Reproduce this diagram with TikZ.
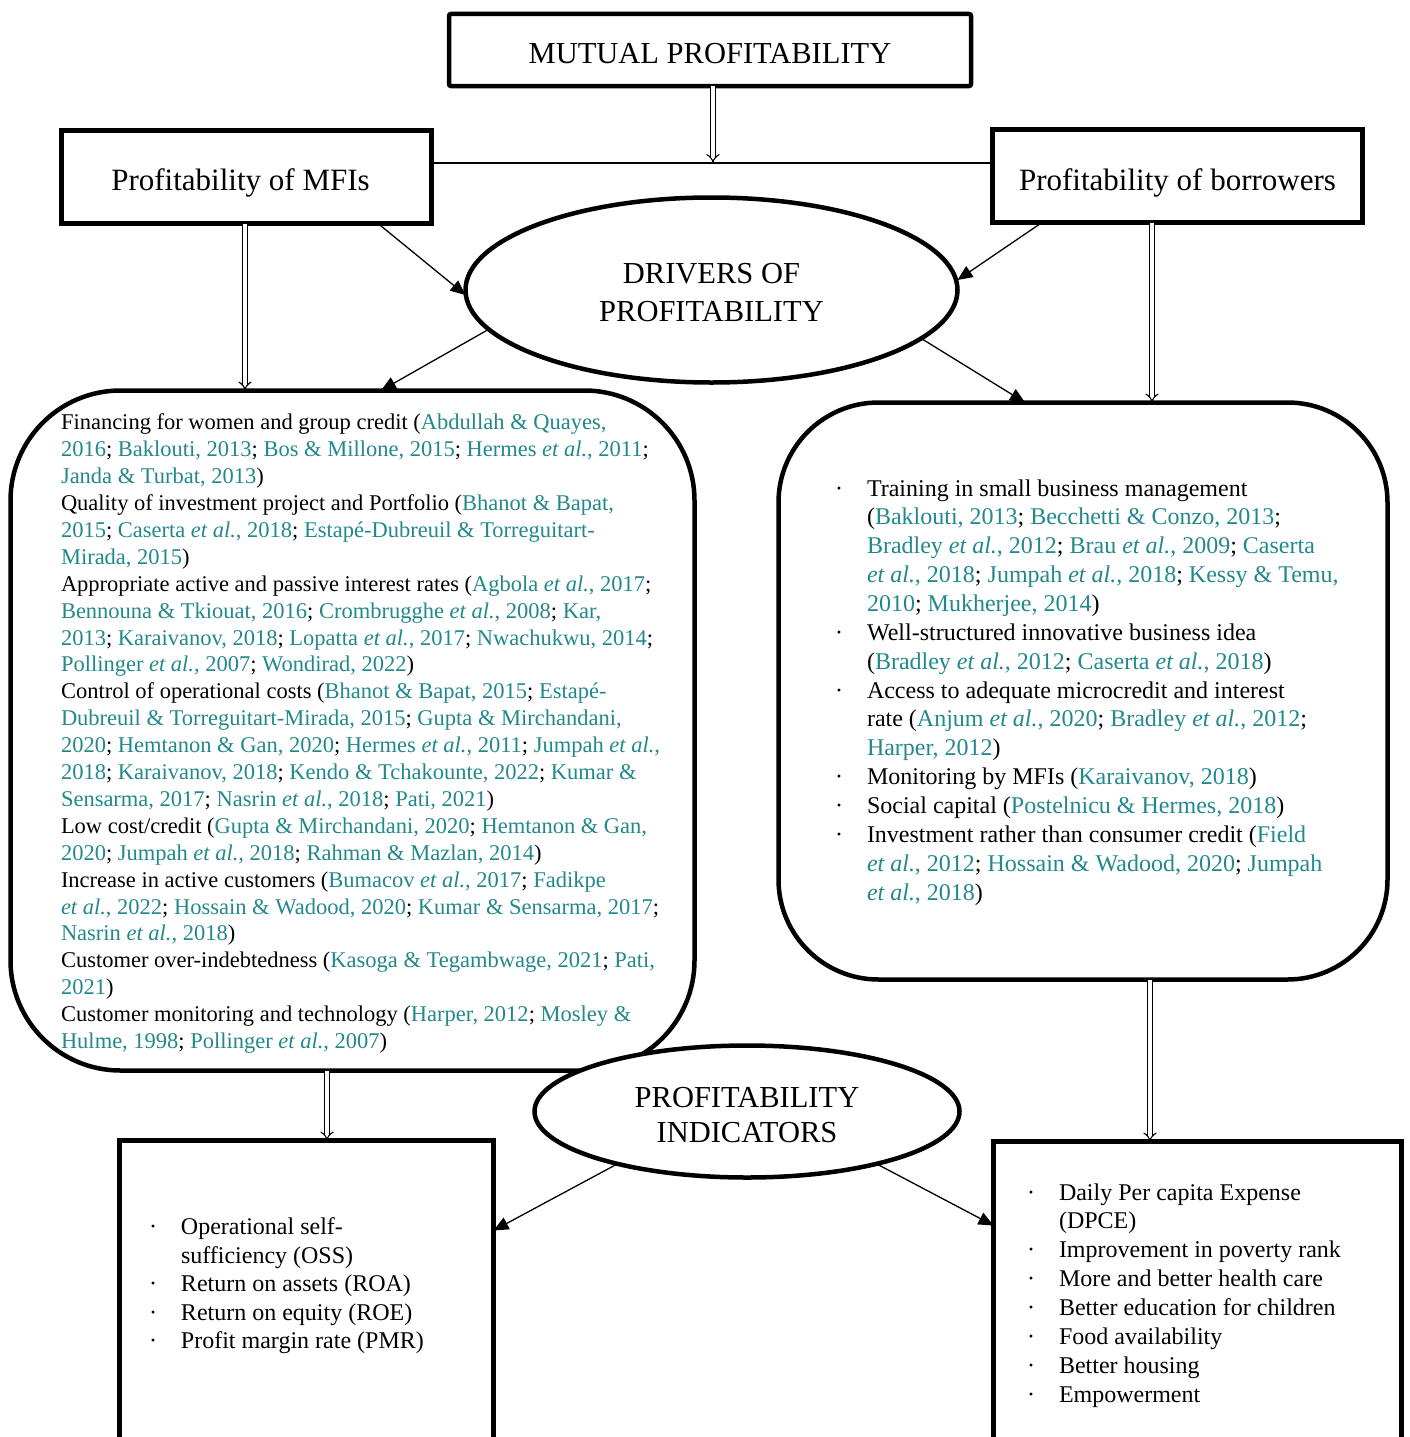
\documentclass[tikz,border=0pt]{standalone}
\usepackage{fontspec}
\setmainfont{Liberation Serif}
\usetikzlibrary{shapes.geometric,arrows.meta,calc}
\definecolor{citec}{RGB}{34,136,140}
\newcommand\ct[1]{\textcolor{citec}{#1}}
\newcommand\ea{\textit{et al.}}
\newcommand\mybul{\makebox[32pt][l]{\textperiodcentered}}
\newcommand\mycont{\makebox[32pt]{}}
\begin{document}
\begin{tikzpicture}[x=1pt,y=-1pt,
  thickbox/.style={draw, line width=4.5pt, inner sep=0pt, outer sep=0pt},
  head/.style={font=\fontsize{31}{38}\selectfont, align=center, inner sep=0pt},
  body/.style={inner sep=0pt, outer sep=0pt, align=left, anchor=north west},
  dbl/.style={double, double distance=3.5pt, line width=1.1pt, -{Implies}},
  arr/.style={line width=1.3pt, -{Triangle[length=15pt,width=13pt]}},
  thin/.style={line width=1.3pt}]
\useasboundingbox (0,0) rectangle (1410,1437);
\clip (0,0) rectangle (1410,1437);
% top boxes
\node[thickbox, rounded corners=2pt, minimum width=522pt, minimum height=72pt] (mutual) at (710,50) {};
\node[head, font=\fontsize{30.5}{36}\selectfont] (mutualt) at ([yshift=-4pt]mutual.center) {MUTUAL PROFITABILITY};
\node[thickbox, minimum width=370pt, minimum height=93pt] (mfi) at (246.5,177) {};
\node[head] (mfit) at ([xshift=-6pt,yshift=-6pt]mfi.center) {Profitability of MFIs};
\node[thickbox, minimum width=370pt, minimum height=93pt] (bor) at (1177.5,176) {};
\node[head] (bort) at ([yshift=-7pt]bor.center) {Profitability of borrowers};
% driver ellipse
\node[thickbox, ellipse, fill=white, minimum width=492pt, minimum height=185pt] (drv) at (711.5,290) {};
\node[head, font=\fontsize{30.5}{38}\selectfont] (drvt) at ([yshift=-3pt]drv.center) {DRIVERS OF\\PROFITABILITY};
% rounded boxes
\node[thickbox, rounded corners=110pt, minimum width=684pt, minimum height=680pt] (lbox) at (352.5,730.5) {};
\node[thickbox, rounded corners=100pt, minimum width=609pt, minimum height=577pt] (rbox) at (1083,691) {};
% bottom boxes (cut by the page edge)
\node[thickbox, minimum width=374pt, minimum height=340pt] (bl) at (306.5,1310.5) {};
\node[thickbox, minimum width=408pt, minimum height=340pt] (br) at (1197.5,1311.5) {};
% indicators ellipse
\node[thickbox, ellipse, fill=white, minimum width=425pt, minimum height=132pt] (ind) at (747,1111.5) {};
\node[head, font=\fontsize{30.5}{35}\selectfont] (indt) at ([yshift=-4pt]ind.center) {PROFITABILITY\\INDICATORS};
% connectors
\coordinate (mj) at (713,163);
\draw[thin] ([yshift=14pt]mfi.east) -- ([yshift=14pt]mfi.east -| bor.west);
\draw[dbl] ([xshift=3pt]mutual.south) -- (mj);
\draw[dbl] ([xshift=-1.5pt]mfi.south) -- ([xshift=-1.5pt]mfi.south |- lbox.north);
\draw[dbl] ([xshift=-25.5pt]bor.south) -- ([xshift=-25.5pt]bor.south |- rbox.north);
\draw[dbl] ([xshift=-25.5pt]lbox.south) -- ([xshift=-25.5pt]lbox.south |- bl.north);
\draw[dbl] ([xshift=67pt]rbox.south) -- ([xshift=67pt]rbox.south |- br.north);
\draw[arr] ([xshift=131.5pt]mfi.south) -- ([yshift=-5pt]drv.west);
\draw[arr] ([xshift=-135.5pt]bor.south) -- ([yshift=10pt]drv.east);
\draw[arr] (drv.190) -- ([xshift=28.5pt]lbox.north);
\draw[arr] (drv.-13) -- ([xshift=-58pt]rbox.north);
\draw[arr] (ind.202) -- ([yshift=-90pt]bl.north east);
\draw[arr] (ind.-22) -- ([yshift=-84pt]br.north west);
% texts
\node[body, font=\fontsize{22.5}{26.9}\selectfont] (ltext) at (61,411) {\strut Financing for women and group credit (\ct{Abdullah \& Quayes,}\\
\ct{2016}; \ct{Baklouti, 2013}; \ct{Bos \& Millone, 2015}; \ct{Hermes \ea, 2011};\\
\ct{Janda \& Turbat, 2013})\\
Quality of investment project and Portfolio (\ct{Bhanot \& Bapat,}\\
\ct{2015}; \ct{Caserta \ea, 2018}; \ct{Estapé-Dubreuil \& Torreguitart-}\\
\ct{Mirada, 2015})\\
Appropriate active and passive interest rates (\ct{Agbola \ea, 2017};\\
\ct{Bennouna \& Tkiouat, 2016}; \ct{Crombrugghe \ea, 2008}; \ct{Kar,}\\
\ct{2013}; \ct{Karaivanov, 2018}; \ct{Lopatta \ea, 2017}; \ct{Nwachukwu, 2014};\\
\ct{Pollinger \ea, 2007}; \ct{Wondirad, 2022})\\
Control of operational costs (\ct{Bhanot \& Bapat, 2015}; \ct{Estapé-}\\
\ct{Dubreuil \& Torreguitart-Mirada, 2015}; \ct{Gupta \& Mirchandani,}\\
\ct{2020}; \ct{Hemtanon \& Gan, 2020}; \ct{Hermes \ea, 2011}; \ct{Jumpah \ea,}\\
\ct{2018}; \ct{Karaivanov, 2018}; \ct{Kendo \& Tchakounte, 2022}; \ct{Kumar \&}\\
\ct{Sensarma, 2017}; \ct{Nasrin \ea, 2018}; \ct{Pati, 2021})\\
Low cost/credit (\ct{Gupta \& Mirchandani, 2020}; \ct{Hemtanon \& Gan,}\\
\ct{2020}; \ct{Jumpah \ea, 2018}; \ct{Rahman \& Mazlan, 2014})\\
Increase in active customers (\ct{Bumacov \ea, 2017}; \ct{Fadikpe}\\
\ct{\ea, 2022}; \ct{Hossain \& Wadood, 2020}; \ct{Kumar \& Sensarma, 2017};\\
\ct{Nasrin \ea, 2018})\\
Customer over-indebtedness (\ct{Kasoga \& Tegambwage, 2021}; \ct{Pati,}\\
\ct{2021})\\
Customer monitoring and technology (\ct{Harper, 2012}; \ct{Mosley \&}\\
\ct{Hulme, 1998}; \ct{Pollinger \ea, 2007})};
\node[body, font=\fontsize{24}{28.86}\selectfont] (rtext) at (835,475.8) {\strut\mybul Training in small business management\\
\mycont(\ct{Baklouti, 2013}; \ct{Becchetti \& Conzo, 2013};\\
\mycont\ct{Bradley \ea, 2012}; \ct{Brau \ea, 2009}; \ct{Caserta}\\
\mycont\ct{\ea, 2018}; \ct{Jumpah \ea, 2018}; \ct{Kessy \& Temu,}\\
\mycont\ct{2010}; \ct{Mukherjee, 2014})\\
\mybul Well-structured innovative business idea\\
\mycont(\ct{Bradley \ea, 2012}; \ct{Caserta \ea, 2018})\\
\mybul Access to adequate microcredit and interest\\
\mycont rate (\ct{Anjum \ea, 2020}; \ct{Bradley \ea, 2012};\\
\mycont\ct{Harper, 2012})\\
\mybul Monitoring by MFIs (\ct{Karaivanov, 2018})\\
\mybul Social capital (\ct{Postelnicu \& Hermes, 2018})\\
\mybul Investment rather than consumer credit (\ct{Field}\\
\mycont\ct{\ea, 2012}; \ct{Hossain \& Wadood, 2020}; \ct{Jumpah}\\
\mycont\ct{\ea, 2018})};
\node[body, font=\fontsize{24}{28.5}\selectfont] (bltext) at (149,1215) {\strut\mybul Operational self-\\
\mycont sufficiency (OSS)\\
\mybul Return on assets (ROA)\\
\mybul Return on equity (ROE)\\
\mybul Profit margin rate (PMR)};
\node[body, font=\fontsize{24}{28.86}\selectfont] (brtext) at (1027,1179.8) {\strut\mybul Daily Per capita Expense\\
\mycont(DPCE)\\
\mybul Improvement in poverty rank\\
\mybul More and better health care\\
\mybul Better education for children\\
\mybul Food availability\\
\mybul Better housing\\
\mybul Empowerment};
\end{tikzpicture}
\end{document}
